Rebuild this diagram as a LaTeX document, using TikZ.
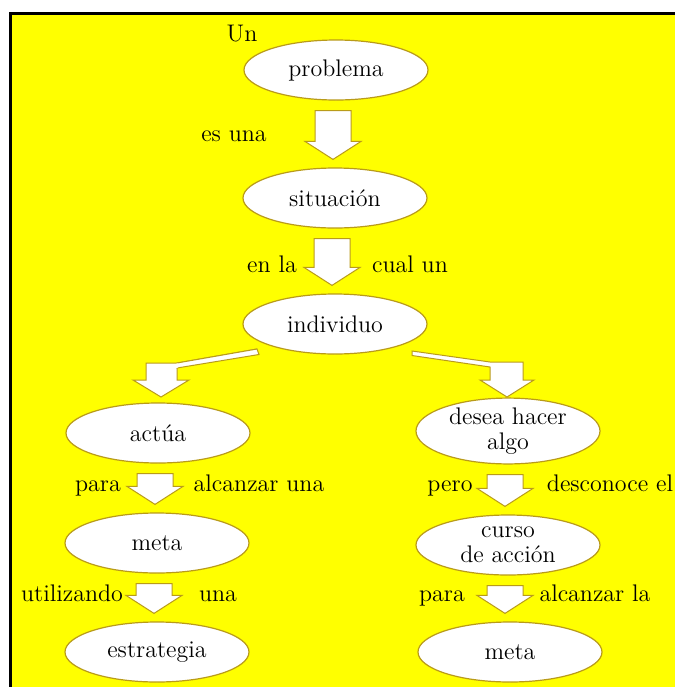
\documentclass[tikz,border=0pt]{standalone}
\usetikzlibrary{shapes.geometric,calc}
\definecolor{fondo}{RGB}{255,255,0}
\definecolor{borde}{RGB}{185,155,25}

\tikzset{
    concepto/.style={ellipse, draw=borde, line width=0.6pt, fill=white,
        minimum width=92pt, minimum height=30pt, inner sep=0pt, align=center,
        font=\fontsize{12}{12.5}\selectfont},
    enlace/.style={anchor=mid, font=\fontsize{12}{12.5}\selectfont},
    bloque/.style={draw=borde, fill=white, line width=0.5pt, line join=miter}
}

% block arrow from one concept down to the next
\newcommand{\flecha}[2]{%
    \coordinate (#1-#2-a) at ($(#1.south)+(-3,10)$);
    \coordinate (#1-#2-m) at (#1-#2-a |- #2.north);
    \coordinate (#1-#2-b) at ($(#1-#2-m)+(0,-8)$);
    \draw[bloque] ($(#1-#2-a)+(-18,0)$) -- ($(#1-#2-a)+(18,0)$)
        -- ($(#1-#2-b)+(18,-18)$) -- ($(#1-#2-b)+(28,-18)$) -- (#1-#2-b)
        -- ($(#1-#2-b)+(-28,-18)$) -- ($(#1-#2-b)+(-18,-18)$) -- cycle;
}

\begin{document}
\begin{tikzpicture}[x=0.5pt, y=-0.5pt]
    \useasboundingbox (0,0) rectangle (675,687);
    \fill[white] (0,0) rectangle (675,687);
    \fill[fondo] (10.5,13.5) rectangle (675,687);
    \draw[line width=1.8pt] (10.5,687) -- (10.5,13.5) -- (675,13.5);

    % concepts
    \node[concepto] (problema) at (336,70) {problema};
    \node[concepto] (situacion) at (335,198) {situación};
    \node[concepto] (individuo) at (335,324) {individuo};
    \node[concepto] (actua) at (158,433) {actúa};
    \node[concepto] (desea) at (508,431) {desea hacer\\algo};
    \node[concepto] (meta1) at (157,543) {meta};
    \node[concepto] (curso) at (508,545) {curso\\de acción};
    \node[concepto] (estrategia) at (157,652) {estrategia};
    \node[concepto] (meta2) at (510,652) {meta};

    % links
    \flecha{problema}{situacion}
    \flecha{situacion}{individuo}
    \flecha{actua}{meta1}
    \flecha{meta1}{estrategia}
    \flecha{desea}{curso}
    \flecha{curso}{meta2}

    % bent arrows under individuo
    \coordinate (izq) at (161,397);
    \coordinate (der) at (507,397);
    \draw[bloque] (257,349) -- (177,363) -- (177,380) -- ($(izq)+(28,-17)$) -- (izq)
        -- ($(izq)+(-28,-17)$) -- (146,380) -- (146,363) -- (177,363);
    \draw[bloque] (257,349) -- (259,354.5) -- (177,368) -- (177,363) -- cycle;
    \fill[white] (176,363.6) -- (176,368) -- (178,367.6) -- (178,363.2) -- cycle;
    \draw[bloque] (412,351) -- (490,362) -- (523,362) -- (523,380) -- ($(der)+(27,-17)$)
        -- (der) -- ($(der)+(-27,-17)$) -- (490,380) -- (490,367) -- (412,355.5) -- cycle;

    % link words
    \node[enlace] (un) at (242,37) {Un};
    \node[enlace] (esuna) at (234,137) {es una};
    \node[enlace] (enla) at (272,268) {en la};
    \node[enlace] (cualun) at (410,268) {cual un};
    \node[enlace] (para1) at (98,487) {para};
    \node[enlace] (alcanzaruna) at (259,487) {alcanzar una};
    \node[enlace] (utilizando) at (72,597) {utilizando};
    \node[enlace] (una) at (218,597) {una};
    \node[enlace] (pero) at (450,487) {pero};
    \node[enlace] (desconoce) at (610,487) {desconoce el};
    \node[enlace] (para2) at (442,597) {para};
    \node[enlace] (alcanzarla) at (595,597) {alcanzar la};
\end{tikzpicture}
\end{document}
